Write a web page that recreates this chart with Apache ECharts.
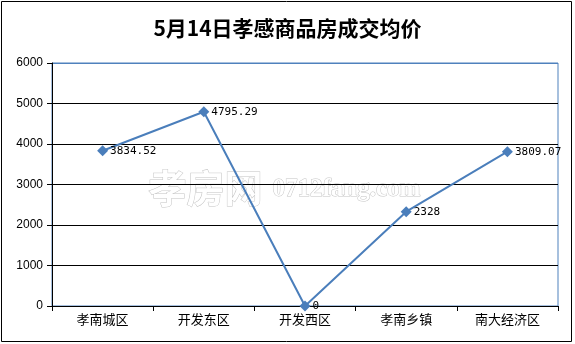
<!DOCTYPE html>
<html>
<head>
<meta charset="utf-8">
<script src="https://cdn.jsdelivr.net/npm/echarts@6/dist/echarts.min.js"></script>
<style>html,body{margin:0;padding:0;background:#fff}#c{width:575px;height:344px}</style>
</head>
<body>
<div id="c"></div>
<script>
const categories = ['孝南城区', '开发东区', '开发西区', '孝南乡镇', '南大经济区'];
const prices = [3834.52, 4795.29, 0, 2328, 3809.07];
const yTicks = [0, 1000, 2000, 3000, 4000, 5000, 6000];
const titleText = '5月14日孝感商品房成交均价';

const chart = echarts.init(document.getElementById('c'));
chart.setOption({
  animation: false,
  backgroundColor: '#fff',
  title: {
    text: titleText, left: 'center', top: 13,
    textStyle: { fontFamily: 'Noto Sans CJK SC', fontSize: 21, fontWeight: 'bold', color: '#000' }
  },
  graphic: [
    { type: 'rect', shape: { x: 1.5, y: 1.5, width: 570, height: 340 }, style: { fill: 'none', stroke: '#000', lineWidth: 1 }, z: 100 },
    { type: 'text', left: 148, top: 168, style: { text: '孝房网', font: 'bold 38px "Noto Sans CJK SC"', fill: '#fff', stroke: '#c4c4c4', lineWidth: 1 }, z: 0 },
    { type: 'text', left: 272, top: 177, style: { text: '0712fang.com', font: 'bold 25px "Liberation Serif"', fill: '#fff', stroke: '#c4c4c4', lineWidth: 1 }, z: 0 }
  ],
  grid: { left: 52, right: 17, top: 63, bottom: 38, show: true, borderColor: '#4f81bd', borderWidth: 1, backgroundColor: 'transparent' },
  xAxis: {
    type: 'category', data: categories, boundaryGap: true,
    axisLine: { lineStyle: { color: '#000', width: 1 } },
    axisTick: { show: true, interval: 0, length: 5, alignWithLabel: false, lineStyle: { color: '#000' } },
    axisLabel: { interval: 0, color: '#000', fontSize: 13, fontFamily: 'Noto Sans CJK SC', margin: 7 }
  },
  yAxis: {
    type: 'value', min: yTicks[0], max: yTicks[yTicks.length - 1], interval: 1000,
    axisLine: { show: true, lineStyle: { color: '#000' } },
    axisTick: { show: true, length: 5, lineStyle: { color: '#000' } },
    axisLabel: { color: '#000', fontSize: 12, fontFamily: 'Liberation Sans', margin: 9, formatter: function (v) { return String(v); } },
    splitLine: { show: true, lineStyle: { color: ['#000', '#000', '#000', '#000', '#000', '#000', '#4f81bd'], width: 1 } }
  },
  series: [{
    type: 'line', data: prices,
    symbol: 'diamond', symbolSize: 11,
    lineStyle: { color: '#4a7ebb', width: 2 },
    itemStyle: { color: '#4a7ebb' },
    label: { show: true, position: 'right', distance: 2, color: '#000', fontSize: 11, fontFamily: 'DejaVu Sans Mono' },
    z: 5
  }]
});
</script>
</body>
</html>
